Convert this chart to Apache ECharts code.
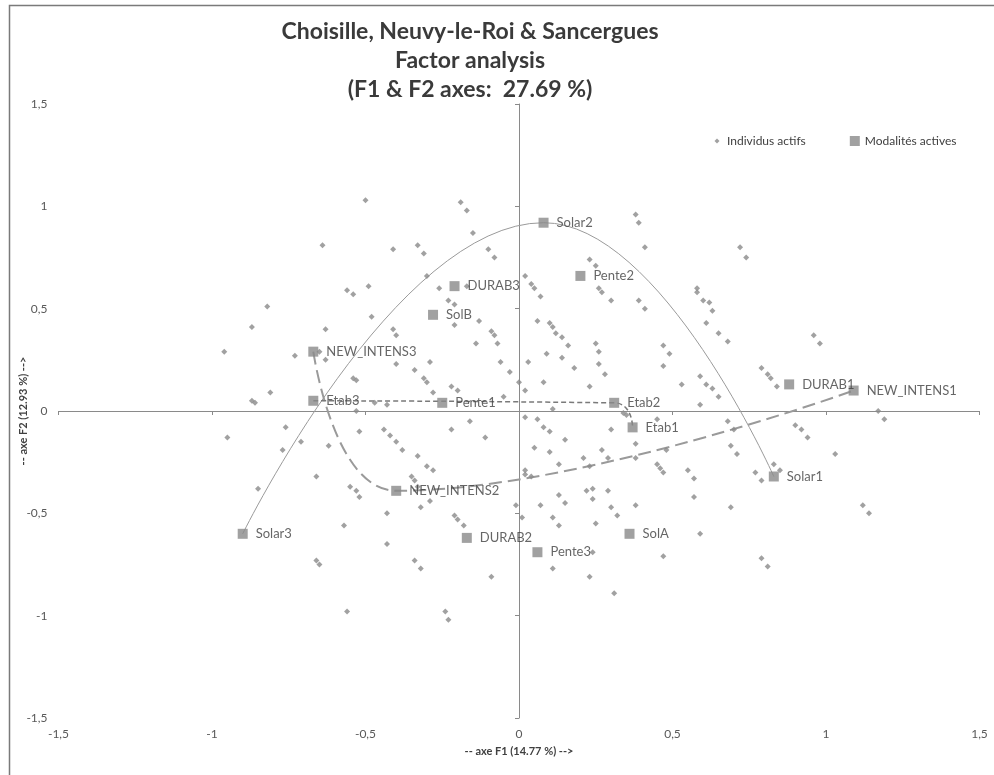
<!DOCTYPE html>
<html lang="en">
<head>
    <meta charset="UTF-8">
    <title>Factor analysis</title>
    <script src="https://cdn.jsdelivr.net/npm/echarts@6/dist/echarts.min.js"></script>
    <style>
        body { margin: 0; background: #fff; }
    </style>
</head>
<body>
    <div id="chart_div" style="width: 994px; height: 775px;"></div>
</body>
    <script type="text/javascript">

       // individus actifs (F1, F2)
       var individus = [
           [-0.82,0.51],[-0.87,0.41],[-0.96,0.29],[-0.87,0.05],[-0.86,0.04],[-0.81,0.09],[-0.76,-0.08],
           [-0.95,-0.13],[-0.77,-0.19],[-0.85,-0.38],[-0.50,1.03],[-0.19,1.02],[-0.17,0.98],[-0.15,0.87],
           [-0.64,0.81],[-0.41,0.79],[-0.33,0.81],[-0.31,0.77],[-0.10,0.79],[-0.08,0.75],[-0.30,0.66],
           [-0.49,0.61],[-0.56,0.59],[-0.54,0.57],[-0.26,0.60],[-0.17,0.61],[-0.23,0.54],[-0.21,0.52],
           [-0.48,0.46],[-0.21,0.42],[-0.13,0.44],[-0.63,0.40],[-0.09,0.39],[-0.08,0.37],[-0.41,0.40],
           [-0.40,0.37],[-0.14,0.33],[-0.07,0.33],[-0.73,0.27],[-0.65,0.29],[-0.63,0.25],[-0.40,0.23],
           [-0.29,0.24],[-0.34,0.20],[-0.06,0.24],[-0.03,0.19],[-0.54,0.16],[-0.53,0.15],[-0.31,0.16],
           [-0.30,0.14],[0.38,0.96],[0.39,0.92],[0.41,0.80],[0.23,0.74],[0.25,0.71],[0.02,0.66],
           [0.04,0.62],[0.05,0.60],[0.07,0.56],[0.26,0.60],[0.27,0.58],[0.30,0.54],[0.39,0.54],
           [0.41,0.50],[0.58,0.60],[0.58,0.58],[0.60,0.54],[0.62,0.53],[0.63,0.49],[0.61,0.43],
           [0.65,0.38],[0.68,0.34],[0.06,0.44],[0.10,0.43],[0.11,0.41],[0.12,0.38],[0.14,0.36],
           [0.16,0.32],[0.25,0.33],[0.26,0.29],[0.09,0.28],[0.14,0.26],[0.03,0.24],[0.18,0.21],
           [0.26,0.23],[0.28,0.18],[0.47,0.32],[0.49,0.28],[0.47,0.22],[0.59,0.17],[0.72,0.80],
           [0.74,0.75],[0.96,0.37],[0.98,0.33],[0.79,0.21],[0.81,0.18],[0.82,0.16],[0.84,0.12],
           [1.17,0.00],[1.19,-0.04],[0.90,-0.07],[0.92,-0.09],[0.94,-0.13],[1.03,-0.21],[0.83,-0.26],
           [0.77,-0.30],[0.79,-0.34],[0.85,-0.29],[1.12,-0.46],[1.14,-0.50],[0.79,-0.72],[0.81,-0.76],
           [0.23,0.12],[0.08,0.14],[0.00,0.14],[0.02,0.10],[0.53,0.13],[0.61,0.13],[0.63,0.11],
           [0.65,0.07],[0.59,0.03],[0.11,0.01],[0.02,-0.03],[0.06,-0.04],[0.08,-0.08],[0.10,-0.10],
           [0.15,-0.14],[0.30,-0.09],[0.34,-0.01],[0.35,-0.02],[0.45,-0.04],[0.68,-0.05],[0.70,-0.09],
           [0.69,-0.17],[0.71,-0.21],[0.05,-0.18],[0.10,-0.20],[0.13,-0.26],[0.21,-0.23],[0.23,-0.27],
           [0.27,-0.19],[0.29,-0.23],[0.38,-0.16],[0.38,-0.23],[0.48,-0.19],[0.45,-0.26],[0.46,-0.28],
           [0.47,-0.30],[0.55,-0.29],[0.57,-0.33],[0.57,-0.42],[0.69,-0.47],[0.02,-0.29],[0.02,-0.31],
           [0.04,-0.32],[0.13,-0.41],[0.15,-0.45],[0.22,-0.39],[0.24,-0.38],[0.24,-0.43],[0.29,-0.39],
           [0.30,-0.47],[0.32,-0.51],[0.38,-0.46],[0.07,-0.46],[-0.01,-0.46],[0.01,-0.52],[0.11,-0.52],
           [0.13,-0.56],[0.25,-0.55],[0.59,-0.60],[0.24,-0.69],[0.11,-0.77],[0.47,-0.71],[0.23,-0.81],
           [0.31,-0.89],[-0.28,0.09],[-0.22,0.12],[-0.20,0.10],[-0.05,0.07],[-0.47,0.04],[-0.43,0.03],
           [-0.53,0.00],[-0.52,-0.10],[-0.44,-0.09],[-0.42,-0.12],[-0.40,-0.15],[-0.38,-0.19],[-0.62,-0.17],
           [-0.71,-0.15],[-0.33,-0.22],[-0.30,-0.27],[-0.28,-0.29],[-0.16,-0.05],[-0.22,-0.09],[-0.11,-0.13],
           [-0.66,-0.32],[-0.35,-0.32],[-0.34,-0.34],[-0.33,-0.37],[-0.55,-0.37],[-0.53,-0.39],[-0.52,-0.42],
           [-0.32,-0.47],[-0.29,-0.44],[-0.43,-0.50],[-0.57,-0.56],[-0.21,-0.51],[-0.20,-0.53],[-0.18,-0.56],
           [-0.43,-0.65],[-0.66,-0.73],[-0.65,-0.75],[-0.34,-0.73],[-0.32,-0.77],[-0.09,-0.81],[-0.56,-0.98],
           [-0.24,-0.98],[-0.23,-1.02]
       ];

       // modalites actives
       var modNames = ['Solar2','Pente2','DURAB3','SolB','NEW_INTENS3','Etab3','Pente1','Etab2','Etab1',
                       'DURAB1','NEW_INTENS1','Solar1','NEW_INTENS2','DURAB2','Pente3','SolA','Solar3'];
       var modF1 = [0.08, 0.20, -0.21, -0.28, -0.67, -0.67, -0.25, 0.31, 0.37,
                    0.88, 1.09, 0.83, -0.40, -0.17, 0.06, 0.36, -0.90];
       var modF2 = [0.92, 0.66, 0.61, 0.47, 0.29, 0.05, 0.04, 0.04, -0.08,
                    0.13, 0.10, -0.32, -0.39, -0.62, -0.69, -0.60, -0.60];

       // curves joining modalities of the same variable
       var solarCurve = ['Solar3', 'Solar2', 'Solar1'];
       var intensCurve = ['NEW_INTENS3', 'NEW_INTENS2', 'NEW_INTENS1'];
       var etabCurve = ['Etab3', 'Etab2', 'Etab1'];

       function modPoint(name) {
           var i = modNames.indexOf(name);
           return [modF1[i], modF2[i]];
       }

       var modData = modNames.map(function (n, i) {
           return { name: n, value: [modF1[i], modF2[i]] };
       });

       function fmt(v) { return String(v).replace('.', ','); }

       var font = 'Lato, "Open Sans", sans-serif';
       var axisGrey = '#8a8a8a';

       var chart = echarts.init(document.getElementById("chart_div"));
       var options = {
            animation: false,
            textStyle: { fontFamily: font },
            title: {
                text: 'Choisille, Neuvy-le-Roi & Sancergues\nFactor analysis\n(F1 & F2 axes:  27.69 %)',
                left: 465,
                top: 12,
                textAlign: 'center',
                textStyle: { fontFamily: font, fontSize: 23, fontWeight: 'bold', color: '#3a3a3a', lineHeight: 29 }
            },
            legend: {
                left: 707,
                top: 130,
                itemWidth: 10,
                itemHeight: 10,
                itemGap: 44,
                textStyle: { fontFamily: font, fontSize: 12, color: '#404040' },
                data: [
                    { name: 'Individus actifs', icon: 'path://M0 0M10 10M5 2.5L7.5 5L5 7.5L2.5 5Z' },
                    { name: 'Modalités actives', icon: 'rect' }
                ]
            },
            grid: { left: 58.5, right: 14.5, top: 104, bottom: 57 },
            xAxis: [
                {
                    type: 'value', min: -1.5, max: 1.5, interval: 0.5, position: 'bottom',
                    axisLine: { show: false, onZero: false }, axisTick: { show: false }, splitLine: { show: false },
                    axisLabel: { formatter: fmt, fontSize: 12, color: '#595959', margin: 10 },
                    name: '-- axe F1 (14.77 %) -->', nameLocation: 'middle', nameGap: 28, nameMoveOverlap: false,
                    nameTextStyle: { fontFamily: font, fontSize: 11, fontWeight: 'bold', color: '#404040' }
                },
                {
                    type: 'value', min: -1.5, max: 1.5, interval: 0.5, position: 'bottom',
                    axisLine: { show: true, onZero: true, lineStyle: { color: axisGrey, width: 1 } },
                    axisTick: { show: true, length: 4, lineStyle: { color: axisGrey } },
                    axisLabel: { show: false }, splitLine: { show: false }
                }
            ],
            yAxis: [
                {
                    type: 'value', min: -1.5, max: 1.5, interval: 0.5, position: 'left',
                    axisLine: { show: false, onZero: false }, axisTick: { show: false }, splitLine: { show: false },
                    axisLabel: { formatter: fmt, fontSize: 12, color: '#595959', margin: 11 },
                    name: '-- axe F2 (12.93 %) -->', nameLocation: 'middle', nameGap: 30, nameRotate: 90,
                    nameMoveOverlap: false,
                    nameTextStyle: { fontFamily: font, fontSize: 11, fontWeight: 'bold', color: '#404040' }
                },
                {
                    type: 'value', min: -1.5, max: 1.5, interval: 0.5, position: 'left',
                    axisLine: { show: true, onZero: true, lineStyle: { color: axisGrey, width: 1 } },
                    axisTick: { show: true, length: 4, lineStyle: { color: axisGrey } },
                    axisLabel: { show: false }, splitLine: { show: false }
                }
            ],
            graphic: [
                { type: 'rect', silent: true, shape: { x: 9.5, y: 5.5, width: 1000, height: 800 },
                  style: { fill: 'none', stroke: '#7a7a7a', lineWidth: 1.5 } }
            ],
            series: [
                {
                    name: 'Individus actifs', type: 'scatter', symbol: 'diamond', symbolSize: 6,
                    itemStyle: { color: '#8a8a8a' }, data: individus, z: 3
                },
                {
                    name: 'solar', type: 'line', smooth: 0.5, symbol: 'none', silent: true,
                    data: solarCurve.map(modPoint),
                    lineStyle: { color: '#9a9a9a', width: 1 }, z: 2
                },
                {
                    name: 'intens', type: 'line', smooth: 0.45, symbol: 'none', silent: true,
                    data: intensCurve.map(modPoint),
                    lineStyle: { color: '#9a9a9a', width: 2, type: [13, 6] }, z: 2
                },
                {
                    name: 'etab', type: 'line', smooth: 0.7, symbol: 'none', silent: true,
                    data: etabCurve.map(modPoint),
                    lineStyle: { color: '#7a7a7a', width: 1.5, type: [5, 3] }, z: 2
                },
                {
                    name: 'Modalités actives', type: 'scatter', symbol: 'rect', symbolSize: 10,
                    itemStyle: { color: '#8a8a8a' }, data: modData, z: 4,
                    label: {
                        show: true, position: 'right', distance: 8,
                        formatter: '{b}', fontFamily: font, fontSize: 13, color: '#404040'
                    }
                }
            ]
       };

       chart.setOption(options);

    </script>
</html>
